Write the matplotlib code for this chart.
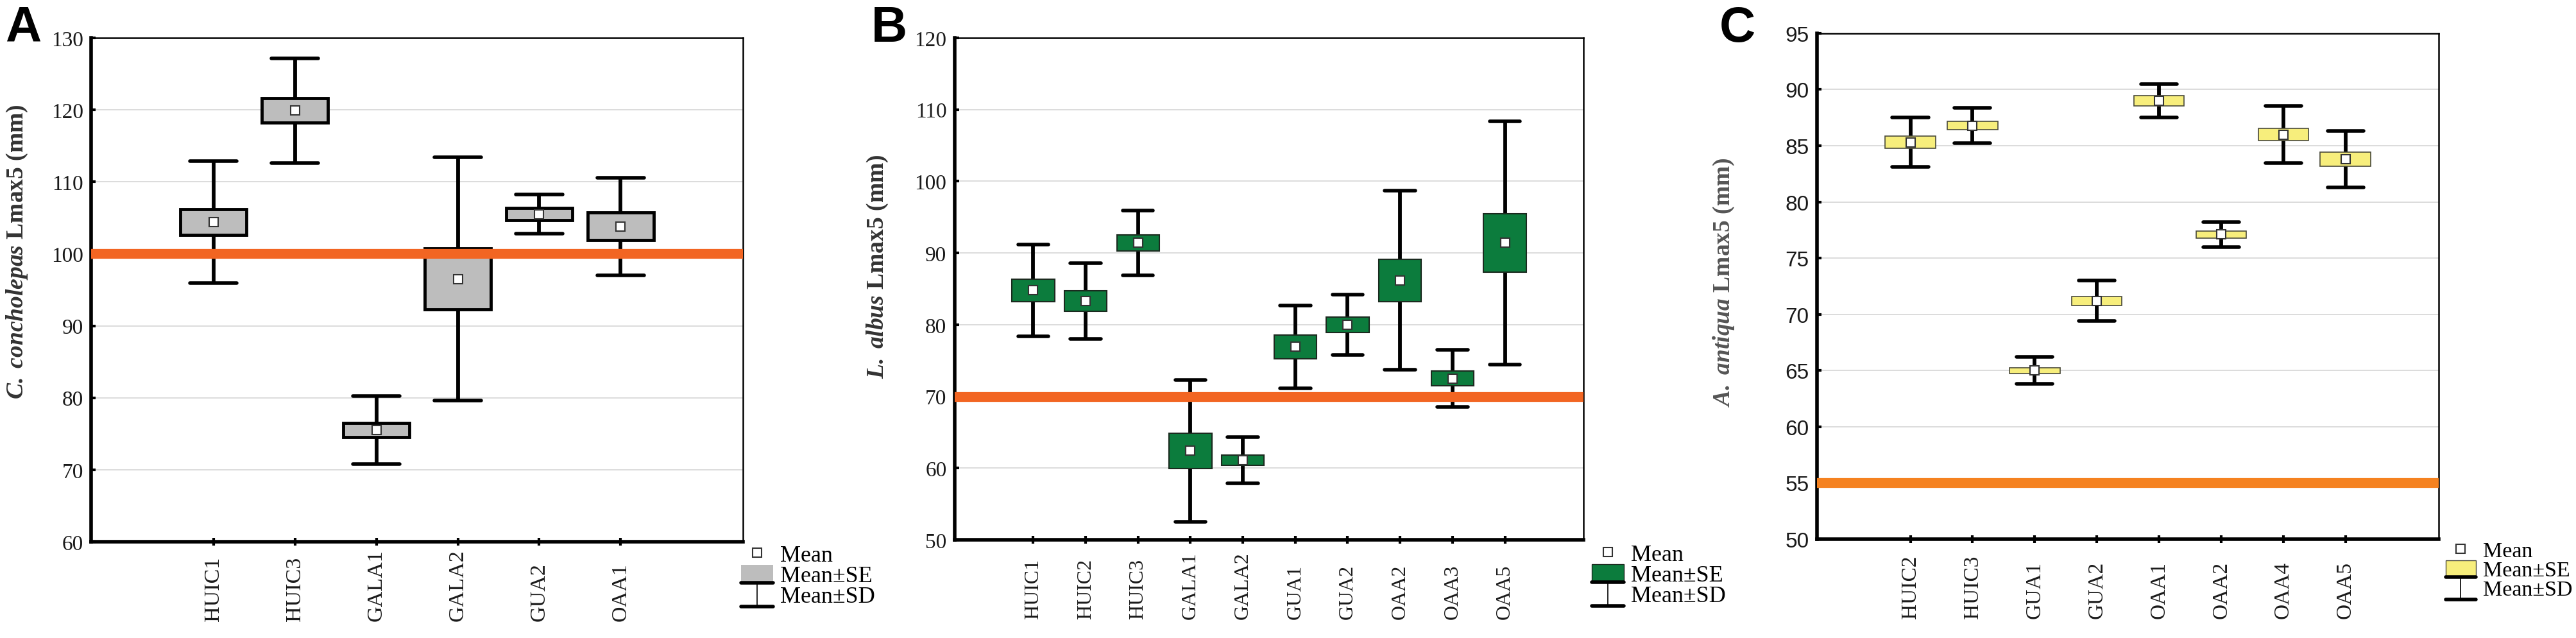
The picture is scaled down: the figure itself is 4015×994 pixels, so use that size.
import matplotlib
matplotlib.use("Agg")
import matplotlib.pyplot as plt
import numpy as np
from matplotlib.lines import Line2D
from matplotlib.patches import Patch
from matplotlib.legend_handler import HandlerBase

# ---- data ----
sitesA = ["HUIC1", "HUIC3", "GALA1", "GALA2", "GUA2", "OAA1"]
meanA = [104.4, 119.9, 75.5, 96.5, 105.5, 103.8]
seA = [1.75, 1.7, 1.0, 4.25, 0.85, 1.9]
sdA = [8.45, 7.25, 4.7, 16.9, 2.7, 6.8]
refA = 100

sitesB = ["HUIC1", "HUIC2", "HUIC3", "GALA1", "GALA2", "GUA1", "GUA2", "OAA2", "OAA3", "OAA5"]
meanB = [84.8, 83.3, 91.4, 62.4, 61.1, 76.9, 80.0, 86.2, 72.5, 91.4]
seB = [1.55, 1.4, 1.1, 2.45, 0.75, 1.65, 1.1, 2.95, 1.0, 4.1]
sdB = [6.4, 5.3, 4.5, 9.9, 3.25, 5.8, 4.2, 12.5, 4.0, 17.0]
refB = 70

sitesC = ["HUIC2", "HUIC3", "GUA1", "GUA2", "OAA1", "OAA2", "OAA4", "OAA5"]
meanC = [85.3, 86.8, 65.0, 71.2, 89.0, 77.1, 86.0, 83.8]
seC = [0.55, 0.35, 0.25, 0.4, 0.45, 0.3, 0.55, 0.65]
sdC = [2.2, 1.55, 1.2, 1.8, 1.5, 1.1, 2.55, 2.5]
refC = 55

SERIF = "Liberation Serif"
SANS = "Liberation Sans"


class WhiskerHandler(HandlerBase):
    def create_artists(self, legend, orig_handle, xdescent, ydescent,
                       width, height, fontsize, trans):
        x0 = -xdescent
        x1 = x0 + width
        xm = (x0 + x1) / 2
        y0 = -ydescent - 0.25 * height
        y1 = -ydescent + 1.15 * height
        stem = Line2D([xm, xm], [y0, y1], color="black", lw=1.2, transform=trans)
        top = Line2D([x0, x1], [y1, y1], color="black", lw=4, transform=trans,
                     solid_capstyle="round")
        bot = Line2D([x0, x1], [y0, y0], color="black", lw=4, transform=trans,
                     solid_capstyle="round")
        return [stem, top, bot]


def panel(ax, sites, mean, se, sd, ref, ylim, ystep, fill, edge, box_lw,
          refcolor, ylabel_sp, ytickfont, label_pos, xfs, leg_x, leg_y, ylcolor,
          leg_fs=26):
    x = np.arange(len(sites))
    mean = np.array(mean)
    se = np.array(se)
    sd = np.array(sd)

    ax.set_xlim(-1.5, len(sites) + 0.5)
    ax.set_ylim(*ylim)
    yt = np.arange(ylim[0], ylim[1] + 0.1, ystep)
    ax.set_yticks(yt)
    for v in yt[1:-1]:
        ax.axhline(v, color="#d6d6d6", lw=1.2, zorder=0)

    # SD whiskers
    ax.vlines(x, mean - sd, mean + sd, color="black", lw=4.2, zorder=2)
    ax.hlines(mean + sd, x - 0.29, x + 0.29, color="black", lw=4, zorder=2,
              capstyle="round")
    ax.hlines(mean - sd, x - 0.29, x + 0.29, color="black", lw=4, zorder=2,
              capstyle="round")
    # SE boxes
    ax.bar(x, 2 * se, bottom=mean - se, width=0.81, color=fill,
           edgecolor=edge, linewidth=box_lw, zorder=3)
    # means
    ax.plot(x, mean, "s", ms=10.5, mfc="white", mec="#333333", mew=1.5, zorder=4)
    # reference line
    ax.axhline(ref, color=refcolor, lw=11, zorder=5)

    ax.set_xticks(x)
    ax.set_xticklabels(sites, rotation=90, fontfamily=SERIF, fontsize=xfs,
                       color="#1a1a1a")
    for lab in ax.get_xticklabels():
        lab.set_va("bottom")
    ax.tick_params(axis="x", direction="inout", length=9, width=3, pad=84)
    ax.tick_params(axis="y", direction="in", length=5, width=3, pad=9,
                   labelsize=24, labelcolor="#1a1a1a")
    for lab in ax.get_yticklabels():
        lab.set_fontfamily(ytickfont)

    for s in ["left", "bottom"]:
        ax.spines[s].set_linewidth(4)
    for s in ["top", "right"]:
        ax.spines[s].set_linewidth(1.8)

    ax.set_ylabel(r"$\mathbfit{" + ylabel_sp.replace(" ", r"\ ") + r"}$" + " Lmax5 (mm)",
                  fontfamily=SERIF, fontweight="bold", fontsize=27, color=ylcolor)
    ax.yaxis.set_label_coords(*label_pos)

    handles = [
        Line2D([], [], marker="s", ls="none", ms=10, mfc="white", mec="#333333", mew=1.5),
        Patch(facecolor=fill, edgecolor=edge if box_lw < 2 else "none", linewidth=1),
        Line2D([], [], color="black", lw=4),
    ]
    ax.legend(handles, ["Mean", "Mean\u00b1SE", "Mean\u00b1SD"],
              handler_map={handles[2]: WhiskerHandler()},
              loc="upper left", bbox_to_anchor=(leg_x, leg_y), frameon=False,
              prop={"family": SERIF, "size": leg_fs}, handlelength=1.4,
              handleheight=0.75, handletextpad=0.3, labelspacing=-0.05,
              borderpad=0, borderaxespad=0)


plt.rcParams["mathtext.fontset"] = "custom"
plt.rcParams["mathtext.bfit"] = "Liberation Serif:italic:bold"
plt.rcParams["mathtext.it"] = "Liberation Serif:italic"
plt.rcParams["mathtext.bf"] = "Liberation Serif:bold"
plt.rcParams["mathtext.rm"] = "Liberation Serif"

fig = plt.figure(figsize=(40.15, 9.95), dpi=100)
axA = fig.add_axes([0.0354, 0.1508, 0.2530, 0.7889])
axB = fig.add_axes([0.3706, 0.1538, 0.2441, 0.7859])
axC = fig.add_axes([0.7054, 0.1548, 0.2413, 0.7920])

panel(axA, sitesA, meanA, seA, sdA, refA, (60, 130), 10, "#bdbdbd", "black", 3.5,
      "#f26522", "C. concholepas", SERIF, (-0.095, 0.577), 24.5, 0.997, -0.005, "#333333")
panel(axB, sitesB, meanB, seB, sdB, refB, (50, 120), 10, "#0c7c3d", "#1b2a1f", 1.5,
      "#f26522", "L. albus", SERIF, (-0.103, 0.546), 23, 1.013, -0.008, "#333333")
panel(axC, sitesC, meanC, seC, sdC, refC, (50, 95), 5, "#f7ee7c", "#4a4a3a", 1.2,
      "#f58220", "A. antiqua", SANS, (-0.13, 0.509), 24, 1.011, -0.004, "#555555",
      leg_fs=24.5)

for letter, xp in [("A", 8), ("B", 1358), ("C", 2680)]:
    fig.text(xp / 4015, 1 - 8 / 995, letter, fontfamily=SANS, fontweight="bold",
             fontsize=56, va="top", ha="left")

fig.savefig("out.png", dpi=100)
